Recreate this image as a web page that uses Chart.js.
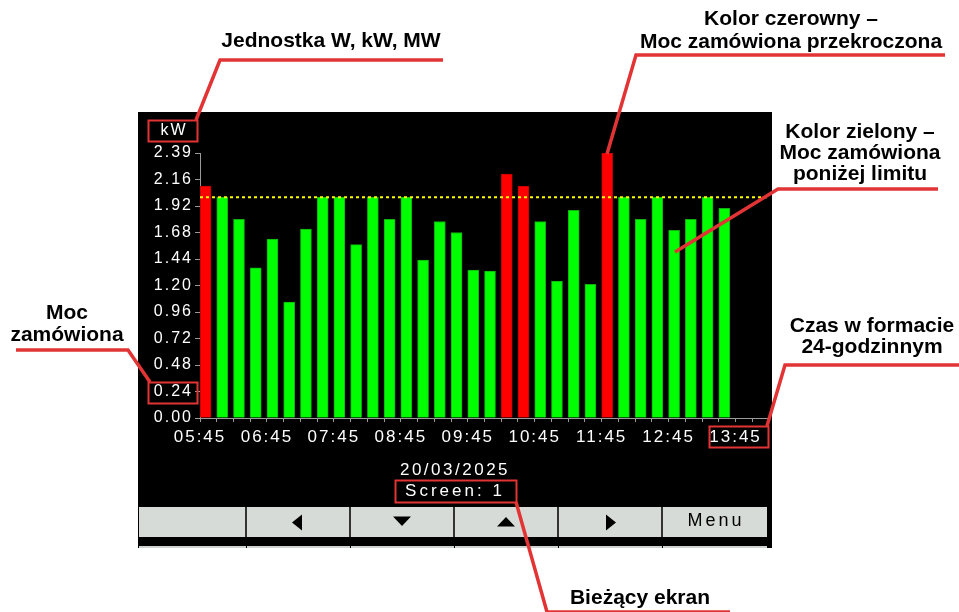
<!DOCTYPE html>
<html>
<head>
<meta charset="utf-8">
<script src="https://cdn.jsdelivr.net/npm/chart.js@4.4.1/dist/chart.umd.min.js"></script>
<style>
  html, body { margin: 0; padding: 0; background: #ffffff; }
  #wrap { width: 959px; height: 612px; position: relative; }
</style>
</head>
<body>
<div id="wrap"><canvas id="c" width="959" height="612"></canvas></div>
<script>
// ---- data ----
const times = ['05:45','06:00','06:15','06:30','06:45','07:00','07:15','07:30',
               '07:45','08:00','08:15','08:30','08:45','09:00','09:15','09:30',
               '09:45','10:00','10:15','10:30','10:45','11:00','11:15','11:30',
               '11:45','12:00','12:15','12:30','12:45','13:00','13:15','13:30'];
const power = [2.10, 2.00, 1.80, 1.36, 1.62, 1.05, 1.71, 2.00,
               2.00, 1.57, 2.00, 1.80, 2.00, 1.43, 1.78, 1.68,
               1.34, 1.33, 2.21, 2.10, 1.78, 1.24, 1.88, 1.21,
               2.40, 2.00, 1.80, 2.00, 1.70, 1.80, 2.00, 1.90];
const orderedPower = 2.00;
const hourLabels = ['05:45','06:45','07:45','08:45','09:45','10:45','11:45','12:45','13:45'];
const yTickValues = [0, 0.24, 0.48, 0.72, 0.96, 1.20, 1.44, 1.68, 1.92, 2.16, 2.40];
const yTickLabels = ['0.00','0.24','0.48','0.72','0.96','1.20','1.44','1.68','1.92','2.16','2.39'];
const slotCount = 34; // quarter-hour slots shown on the time axis
const unitLabel = 'kW';
const dateLabel = '20/03/2025';
const screenLabel = 'Screen: 1';

// ---- styling ----
const GREEN = '#00ff00', GREEN_EDGE = '#10b010';
const RED = '#ff0000', RED_EDGE = '#c00000';
const ANN = '#e23434';
const barOffset = 0.33; // bars sit at the left part of their quarter-hour slot

const barData = power.map((v, i) => ({ x: i + barOffset, y: v }));
const limitData = [{ x: 0, y: orderedPower }, { x: slotCount, y: orderedPower }];

function line(ctx, pts, w, col) {
  ctx.beginPath();
  ctx.moveTo(pts[0][0], pts[0][1]);
  for (let i = 1; i < pts.length; i++) ctx.lineTo(pts[i][0], pts[i][1]);
  ctx.strokeStyle = col; ctx.lineWidth = w; ctx.lineJoin = 'miter'; ctx.lineCap = 'butt';
  ctx.stroke();
}
function box(ctx, x, y, w, h) {
  ctx.strokeStyle = ANN; ctx.lineWidth = 2;
  ctx.strokeRect(x + 0.5, y + 0.5, w, h);
}
function boldText(ctx, lines, cx, ys) {
  ctx.font = 'bold 21px "Liberation Sans", Arial, sans-serif';
  ctx.fillStyle = '#000'; ctx.textAlign = 'center'; ctx.textBaseline = 'middle';
  lines.forEach((t, i) => ctx.fillText(t, cx, ys[i]));
}

const screenPlugin = {
  id: 'screenPlugin',
  beforeDraw(chart) {
    const ctx = chart.ctx;
    ctx.save();
    ctx.fillStyle = '#ffffff'; ctx.fillRect(0, 0, 959, 612);
    ctx.fillStyle = '#000000'; ctx.fillRect(138, 112, 634, 436);
    ctx.restore();
    ctx.letterSpacing = '2px';
  },
  afterDraw(chart) {
    const ctx = chart.ctx;
    ctx.save();
    ctx.letterSpacing = '2px';
    ctx.fillStyle = '#fff'; ctx.textAlign = 'center'; ctx.textBaseline = 'middle';
    // unit
    ctx.font = '16px "Liberation Sans", Arial, sans-serif';
    ctx.fillText(unitLabel, 174, 131);
    // date and screen
    ctx.font = '17px "Liberation Sans", Arial, sans-serif';
    ctx.letterSpacing = '2.5px';
    ctx.fillText(dateLabel, 455, 470);
    ctx.letterSpacing = '3px';
    ctx.fillText(screenLabel, 455, 491);
    // buttons
    const bx = [139, 246, 350, 454, 558, 662, 767];
    for (let i = 0; i < 6; i++) {
      ctx.fillStyle = '#d7dbd7';
      ctx.fillRect(bx[i] + (i ? 1 : 0), 507, bx[i + 1] - bx[i] - (i ? 1 : 0), 30);
      ctx.fillStyle = '#cfd3cf';
      ctx.fillRect(bx[i] + (i ? 1 : 0), 546, bx[i + 1] - bx[i] - (i ? 1 : 0), 2);
    }
    ctx.fillStyle = '#333';
    for (let i = 1; i < 6; i++) ctx.fillRect(bx[i] - 1, 507, 2, 30);
    ctx.fillStyle = '#000';
    ctx.beginPath(); ctx.moveTo(292, 522.5); ctx.lineTo(302, 514.5); ctx.lineTo(302, 530.5); ctx.closePath(); ctx.fill();
    ctx.beginPath(); ctx.moveTo(393, 516.5); ctx.lineTo(411, 516.5); ctx.lineTo(402, 526); ctx.closePath(); ctx.fill();
    ctx.beginPath(); ctx.moveTo(497, 526.5); ctx.lineTo(515, 526.5); ctx.lineTo(506, 517); ctx.closePath(); ctx.fill();
    ctx.beginPath(); ctx.moveTo(616, 522.5); ctx.lineTo(606, 514.5); ctx.lineTo(606, 530.5); ctx.closePath(); ctx.fill();
    ctx.font = '18px "Liberation Sans", Arial, sans-serif';
    ctx.letterSpacing = '3px';
    ctx.fillText('Menu', 716, 521);
    ctx.letterSpacing = '0px';

    // red annotation boxes
    box(ctx, 148, 120, 49, 21);
    box(ctx, 148, 382, 49, 21);
    box(ctx, 709, 426, 59, 21);
    box(ctx, 395, 480, 121, 22);

    // leader lines
    line(ctx, [[443, 60], [220, 60], [196, 120]], 3.5, ANN);
    line(ctx, [[945, 55], [636, 55], [607, 154]], 3.5, ANN);
    line(ctx, [[938, 189], [778, 189], [675, 252]], 3.5, ANN);
    line(ctx, [[16, 350], [128, 350], [150, 382]], 3.5, ANN);
    line(ctx, [[959, 365], [785, 365], [767, 426]], 3.5, ANN);
    line(ctx, [[516, 502], [547, 612], [730, 612]], 3.5, ANN);

    // annotation texts
    boldText(ctx, ['Jednostka W, kW, MW'], 331, [41]);
    boldText(ctx, ['Kolor czerowny –', 'Moc zamówiona przekroczona'], 791, [19, 42]);
    boldText(ctx, ['Kolor zielony –', 'Moc zamówiona', 'poniżej limitu'], 860, [132, 153, 174]);
    boldText(ctx, ['Moc', 'zamówiona'], 67, [313, 335]);
    boldText(ctx, ['Czas w formacie', '24-godzinnym'], 872, [326, 347]);
    boldText(ctx, ['Bieżący ekran'], 640, [598]);
    ctx.restore();
  }
};

new Chart(document.getElementById('c'), {
  type: 'bar',
  data: {
    datasets: [
      {
        type: 'line',
        label: 'Moc zamówiona',
        data: limitData,
        borderColor: '#ffff00',
        borderWidth: 2,
        borderDash: [3, 3],
        pointRadius: 0,
        fill: false,
        order: 0
      },
      {
        type: 'bar',
        label: 'Moc',
        data: barData,
        backgroundColor: power.map(v => v > orderedPower ? RED : GREEN),
        borderColor: power.map(v => v > orderedPower ? RED_EDGE : GREEN_EDGE),
        borderWidth: 1,
        borderSkipped: 'bottom',
        barThickness: 11,
        order: 1
      }
    ]
  },
  options: {
    responsive: false,
    animation: false,
    devicePixelRatio: 1,
    layout: { padding: { left: 138, right: 190, top: 153, bottom: 164 } },
    plugins: { legend: { display: false }, tooltip: { enabled: false } },
    scales: {
      x: {
        type: 'linear',
        min: 0,
        max: slotCount,
        offset: false,
        grid: { display: true, offset: false, drawOnChartArea: false, drawTicks: true, tickLength: 4, color: '#9a9a9a' },
        border: { display: true, color: '#9a9a9a', width: 1 },
        afterBuildTicks: s => { s.ticks = Array.from({ length: slotCount + 1 }, (_, i) => ({ value: i })); },
        afterFit: s => { s.height = 30; },
        ticks: {
          autoSkip: false,
          maxRotation: 0,
          minRotation: 0,
          padding: 5,
          color: '#ffffff',
          font: { family: '"Liberation Sans", Arial, sans-serif', size: 17 },
          callback: (v) => (v % 4 === 0 ? hourLabels[v / 4] : '')
        }
      },
      y: {
        type: 'linear',
        min: 0,
        max: 2.40,
        grid: { display: true, drawOnChartArea: false, drawTicks: true, tickLength: 5, color: '#9a9a9a' },
        border: { display: true, color: '#9a9a9a', width: 1 },
        afterBuildTicks: s => { s.ticks = yTickValues.map(v => ({ value: v })); },
        afterFit: s => { s.width = 62; },
        ticks: {
          padding: 2,
          color: '#ffffff',
          font: { family: '"Liberation Sans", Arial, sans-serif', size: 16 },
          callback: (v, i) => yTickLabels[i]
        }
      }
    }
  },
  plugins: [screenPlugin]
});
</script>
</body>
</html>
